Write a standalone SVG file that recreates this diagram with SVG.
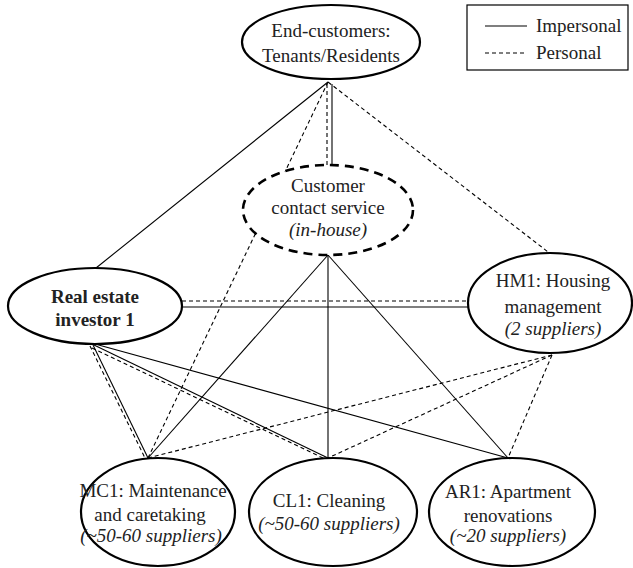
<svg xmlns="http://www.w3.org/2000/svg" width="633" height="568" viewBox="0 0 633 568">
  <style>
    text { font-family: "Liberation Serif", "Times New Roman", serif; font-size: 19px; fill: #222; text-anchor: middle; }
    .it { font-style: italic; }
    .b { font-weight: bold; }
    .node { fill: #fff; stroke: #000; stroke-width: 2.2; }
    .node-dash { fill: #fff; stroke: #000; stroke-width: 2.6; stroke-dasharray: 9 6; }
    .imp { stroke: #000; stroke-width: 1.1; fill: none; }
    .per { stroke: #000; stroke-width: 1.1; fill: none; stroke-dasharray: 4 3; }
  </style>

  <rect width="633" height="568" fill="#fff"/>

  <!-- connectors -->
  <g id="connectors">
    <!-- end-customers -->
    <line class="imp" x1="328" y1="82" x2="96" y2="268"/>
    <line class="per" x1="328" y1="82" x2="148" y2="458"/>
    <line class="per" x1="328" y1="82" x2="552" y2="255"/>
    <line class="per" x1="327" y1="84" x2="327" y2="167"/>
    <line class="imp" x1="332" y1="84" x2="332" y2="167"/>
    <!-- real estate investor to housing management -->
    <line class="per" x1="182" y1="301" x2="468" y2="301"/>
    <line class="imp" x1="182" y1="307" x2="468" y2="307"/>
    <!-- real estate investor to suppliers -->
    <line class="imp" x1="93" y1="345" x2="148" y2="458"/>
    <line class="per" x1="90" y1="346" x2="145" y2="458"/>
    <line class="imp" x1="94" y1="345" x2="328" y2="458"/>
    <line class="per" x1="92" y1="348" x2="325" y2="459"/>
    <line class="imp" x1="95" y1="344" x2="508" y2="458"/>
    <!-- customer contact service to suppliers -->
    <line class="imp" x1="328" y1="255" x2="148" y2="458"/>
    <line class="imp" x1="328" y1="255" x2="328" y2="458"/>
    <line class="imp" x1="328" y1="255" x2="508" y2="458"/>
    <!-- housing management to suppliers -->
    <line class="per" x1="552" y1="355" x2="148" y2="458"/>
    <line class="per" x1="552" y1="355" x2="328" y2="458"/>
    <line class="per" x1="552" y1="355" x2="508" y2="458"/>
  </g>

  <g id="end-customers">
    <ellipse class="node" cx="331" cy="42" rx="89" ry="37"/>
    <text x="331" y="37">End-customers:</text>
    <text x="331" y="62">Tenants/Residents</text>
  </g>

  <g id="customer-contact">
    <ellipse class="node-dash" cx="328" cy="210" rx="85" ry="45"/>
    <text x="328" y="192">Customer</text>
    <text x="328" y="214">contact service</text>
    <text class="it" x="328" y="236">(in-house)</text>
  </g>

  <g id="investor">
    <ellipse class="node" cx="95" cy="306" rx="87" ry="38"/>
    <text class="b" x="95" y="303">Real estate</text>
    <text class="b" x="95" y="326">investor 1</text>
  </g>

  <g id="hm1">
    <ellipse class="node" cx="550" cy="303" rx="82" ry="50"/>
    <text x="553" y="287">HM1: Housing</text>
    <text x="553" y="313">management</text>
    <text class="it" x="553" y="335">(2 suppliers)</text>
  </g>

  <g id="mc1">
    <ellipse class="node" cx="158" cy="512" rx="77" ry="54"/>
    <text x="153" y="497">MC1: Maintenance</text>
    <text x="150" y="521">and caretaking</text>
    <text class="it" x="151" y="542">(~50-60 suppliers)</text>
  </g>

  <g id="cl1">
    <ellipse class="node" cx="333" cy="512" rx="84" ry="54"/>
    <text x="329" y="507">CL1: Cleaning</text>
    <text class="it" x="329" y="530">(~50-60 suppliers)</text>
  </g>

  <g id="ar1">
    <ellipse class="node" cx="512" cy="512" rx="83" ry="54"/>
    <text x="508" y="498">AR1: Apartment</text>
    <text x="508" y="522">renovations</text>
    <text class="it" x="508" y="542">(~20 suppliers)</text>
  </g>

  <g id="legend">
    <rect x="467" y="5" width="161" height="65" fill="#fff" stroke="#000" stroke-width="1.2"/>
    <line class="imp" x1="485" y1="26" x2="527" y2="26"/>
    <line class="per" x1="485" y1="53" x2="527" y2="53"/>
    <text x="536" y="32" style="text-anchor:start">Impersonal</text>
    <text x="536" y="59" style="text-anchor:start">Personal</text>
  </g>
</svg>
